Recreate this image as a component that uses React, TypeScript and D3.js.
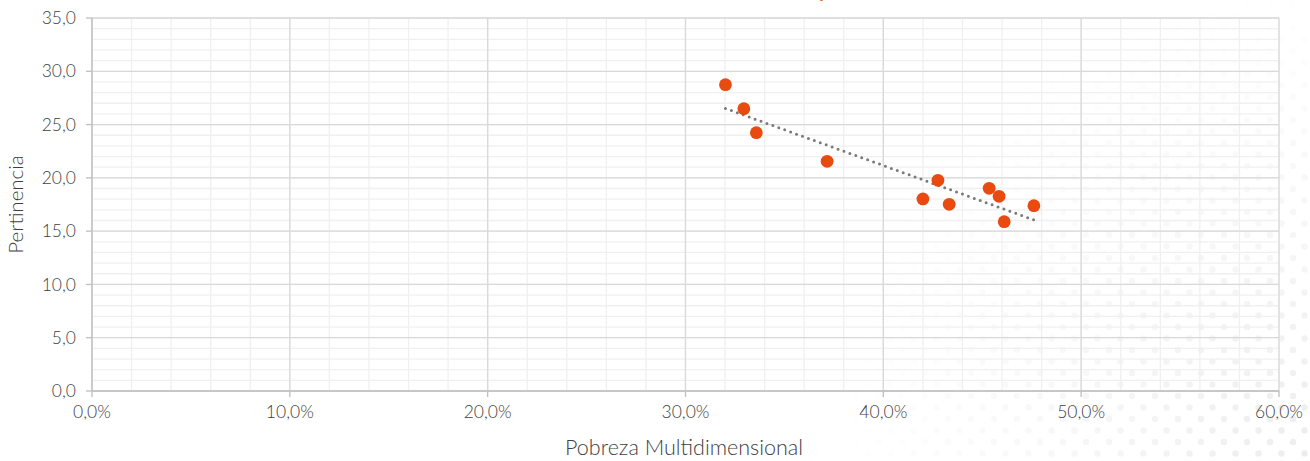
import React from "react";
import * as d3 from "d3";

const pobreza = [32.02, 32.95, 33.58, 37.16, 42.0, 42.76, 43.33, 45.35, 45.85, 46.11, 47.61];
const pertinencia = [28.74, 26.49, 24.24, 21.55, 18.02, 19.77, 17.52, 19.02, 18.27, 15.89, 17.39];
const xTicks = [0, 10, 20, 30, 40, 50, 60];
const yTicks = [0, 5, 10, 15, 20, 25, 30, 35];
const xMinor = d3.range(0, 61, 2);
const yMinor = d3.range(0, 36, 1);

const W = 1310;
const H = 461;
const left = 92;
const right = 1279;
const top = 18;
const bottom = 391;
const FONT = "Lato, 'Noto Sans', sans-serif";
const TXT = "#404040";

export default function App() {
  const x = d3.scaleLinear().domain([0, 60]).range([left, right]);
  const y = d3.scaleLinear().domain([0, 35]).range([bottom, top]);
  const fmt = (v: number) => v.toFixed(1).replace(".", ",");

  const pts = pobreza.map((p, i) => [p, pertinencia[i]] as [number, number]);
  const mx = d3.mean(pobreza)!;
  const my = d3.mean(pertinencia)!;
  const sxy = d3.sum(pts, (d) => (d[0] - mx) * (d[1] - my));
  const sxx = d3.sum(pts, (d) => (d[0] - mx) ** 2);
  const slope = sxy / sxx;
  const icpt = my - slope * mx;
  const [x0, x1] = d3.extent(pobreza) as [number, number];
  const trend = d3.line<number>().x((v) => x(v)).y((v) => y(icpt + slope * v))([x0, x1]);

  return (
    <svg width={W} height={H} style={{ position: "absolute", left: 0, top: 0, background: "#fff" }} fontFamily={FONT} fontWeight={300}>
      <defs>
        <pattern id="dots" width="23" height="23" patternUnits="userSpaceOnUse">
          <circle cx="5" cy="5" r="3.2" fill="#ebebeb" />
          <circle cx="16.5" cy="16.5" r="3.2" fill="#ebebeb" />
        </pattern>
        <radialGradient id="fade" cx={W} cy={H} r="480" gradientUnits="userSpaceOnUse">
          <stop offset="0" stopColor="#fff" stopOpacity="0.9" />
          <stop offset="0.4" stopColor="#fff" stopOpacity="0.5" />
          <stop offset="1" stopColor="#fff" stopOpacity="0" />
        </radialGradient>
        <mask id="m">
          <rect x="0" y="0" width={W} height={H} fill="url(#fade)" />
        </mask>
      </defs>
      <rect x="0" y="0" width={W} height={H} fill="url(#dots)" mask="url(#m)" />
      <text x="823" y="-3" fontSize="20" fontWeight="bold" fill="#F07021" textAnchor="middle">y</text>
      <g>
        {yMinor.map((v) => (
          <line key={"ym" + v} x1={left} x2={right} y1={y(v)} y2={y(v)} stroke="#f0f0f0" strokeWidth={1.3} />
        ))}
        {xMinor.map((v) => (
          <line key={"xm" + v} x1={x(v)} x2={x(v)} y1={top} y2={bottom} stroke="#f0f0f0" strokeWidth={1.3} />
        ))}
        {yTicks.map((v) => (
          <line key={"yM" + v} x1={left} x2={right} y1={y(v)} y2={y(v)} stroke="#d9d9d9" strokeWidth={1.3} />
        ))}
        {xTicks.map((v) => (
          <line key={"xM" + v} x1={x(v)} x2={x(v)} y1={top} y2={bottom} stroke="#d9d9d9" strokeWidth={1.3} />
        ))}
      </g>
      <line x1={left} x2={left} y1={top} y2={bottom} stroke="#bfbfbf" strokeWidth={1.3} />
      <line x1={left} x2={right} y1={bottom} y2={bottom} stroke="#bfbfbf" strokeWidth={1.3} />
      {yTicks.map((v) => (
        <g key={"yt" + v}>
          <line x1={left - 6} x2={left} y1={y(v)} y2={y(v)} stroke="#bfbfbf" strokeWidth={1.3} />
          <text x={left - 16} y={y(v)} dy="0.35em" textAnchor="end" fontSize="17.5" fill={TXT}>
            {fmt(v)}
          </text>
        </g>
      ))}
      {xTicks.map((v) => (
        <g key={"xt" + v}>
          <line x1={x(v)} x2={x(v)} y1={bottom} y2={bottom + 6} stroke="#bfbfbf" strokeWidth={1.3} />
          <text x={x(v)} y={bottom + 27} textAnchor="middle" fontSize="17.5" fill={TXT}>
            {fmt(v) + "%"}
          </text>
        </g>
      ))}
      <path d={trend || ""} fill="none" stroke="#7a7a7a" strokeWidth={3} strokeLinecap="round" strokeDasharray="0 6.3" />
      {pts.map((d, i) => (
        <circle key={"p" + i} cx={x(d[0])} cy={y(d[1])} r={6.4} fill="#E84A10" />
      ))}
      <text x={684} y={455} textAnchor="middle" fontSize="21.5" fill={TXT}>
        Pobreza Multidimensional
      </text>
      <text transform={`translate(23,${(top + bottom) / 2}) rotate(-90)`} textAnchor="middle" fontSize="20.5" fill={TXT}>
        Pertinencia
      </text>
    </svg>
  );
}
